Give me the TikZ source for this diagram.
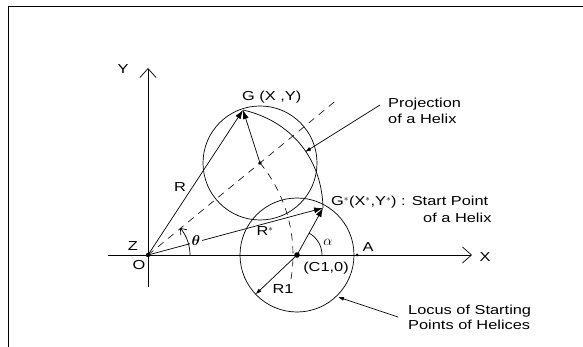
\documentclass[tikz,border=0pt]{standalone}
\usepackage{amsmath}
\usepackage{fontspec}
\setmainfont[FakeStretch=1.26]{Liberation Sans}
\usetikzlibrary{arrows.meta}
\begin{document}
\begin{tikzpicture}[x=1pt,y=-1pt,
  lbl/.style={inner sep=0pt, font=\fontsize{13}{15.5}\selectfont},
  ln/.style={line width=0.7pt},
  bigtip/.style={-{Latex[length=9pt,width=6pt]}},
  smtip/.style={-{Latex[length=6pt,width=4pt]}},
  axistip/.style={-{Straight Barb[length=9pt,width=16pt]}},
  dsh/.style={line width=0.6pt, dash pattern=on 7pt off 6pt},
  dotmark/.style={fill=black}]
\useasboundingbox (0,0) rectangle (583,347);
% frame
\coordinate (fb) at (8,347); \coordinate (ftl) at (8,7); \coordinate (ftr) at (583,7);
\draw[line width=1pt] (fb) -- (ftl) -- (ftr);
% points
\coordinate (O) at (148,255);
\coordinate (C1) at (297,255);
\coordinate (A) at (357,255);
\coordinate (G) at (243,110);
\coordinate (Gs) at (323,208);
\coordinate (U) at (260,163);
\coordinate (D) at ([shift={(39.4:246pt)}]O);
\coordinate (Ybot) at (148,287); \coordinate (Ytop) at (148,68);
\coordinate (Xl) at (108,255); \coordinate (Xr) at (472,255);
\coordinate (R1e) at ([shift={(223.5:57pt)}]C1);
% axes
\draw[ln,axistip] (Ybot) -- (Ytop);
\draw[ln,axistip] (Xl) -- (Xr);
% circles
\draw[ln] (U) circle[radius=57pt];
\draw[ln] (C1) circle[radius=57pt];
% helix projection arc
\draw[ln] (G) to[bend left=38] (Gs);
% dashed construction lines
\draw[dsh] (O) -- (D);
\draw[dsh] ([shift={(39.4:145pt)}]O) arc[start angle=39.4,end angle=-10,radius=145pt];
% vectors
\draw[ln,bigtip] (O) -- (G);
\draw[ln,bigtip] (U) -- (G);
\draw[ln,bigtip] (O) -- (Gs);
\draw[ln,bigtip] (C1) -- (Gs);
\draw[ln,smtip] (C1) -- (R1e);
% angles
\draw[ln,-{Straight Barb[length=5pt,width=8pt]}] ([shift={(42pt,0pt)}]O) arc[start angle=0,end angle=40,radius=42pt];
\draw[ln] ([shift={(25pt,0pt)}]C1) arc[start angle=0,end angle=61,radius=25pt];
% dots
\fill[dotmark] (O) circle[radius=2.2pt];
\fill[dotmark] (C1) circle[radius=2.8pt];
\fill[dotmark] (A) circle[radius=1.5pt];
\fill[dotmark] (U) circle[radius=1.8pt];
% labels
\node[lbl] (lY) at (123,69) {Y};
\node[lbl] (lX) at (485,257) {X};
\node[lbl] (lZ) at (133,246) {Z};
\node[lbl] (lO) at (139,265) {O};
\node[lbl,anchor=west] (lG) at (242,97) {G (X ,Y)};
\node[lbl] (lR) at (180,187) {R};
\node[lbl] (lRs) at (265,231) {R$^*$};
\node[lbl,fill=white,inner sep=1.5pt,font=\fontsize{15}{16}\selectfont] (lth) at (196,241) {$\boldsymbol{\theta}$};
\node[lbl,font=\fontsize{15}{16}\selectfont] (lal) at (328,242) {$\alpha$};
\node[lbl] (lA) at (368,247) {A};
\node[lbl] (lC) at (326,268) {(C1,0)};
\node[lbl] (lR1) at (283,289) {R1};
\node[lbl,anchor=west] (lGs) at (331,202) {G$^*$(X$^*$,Y$^*$) : Start Point};
\node[lbl,anchor=west] (lGs2) at (423,218) {of a Helix};
\node[lbl,anchor=west,align=left] (lP) at (388,111) {Projection\\of a Helix};
\node[lbl,anchor=west,align=left] (lL) at (408,317.5) {Locus of Starting\\Points of Helices};
% pointer arrows
\coordinate (Ptip) at (305,152);
\coordinate (Ltip) at (338,297);
\coordinate (Pst) at (380,105);
\coordinate (Lst) at (398,317);
\draw[ln,smtip] (Pst) -- (Ptip);
\draw[ln,smtip] (Lst) -- (Ltip);
\end{tikzpicture}
\end{document}
